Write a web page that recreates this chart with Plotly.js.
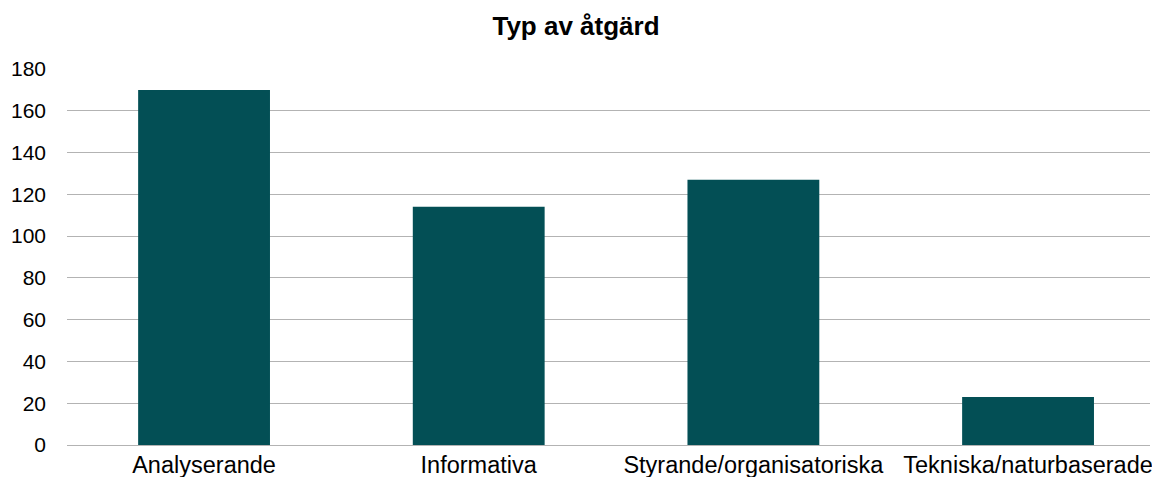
<!DOCTYPE html>
<html>
<head>
<meta charset="utf-8">
<script src="https://cdn.plot.ly/plotly-3.0.1.min.js"></script>
<style>
  html, body { margin: 0; padding: 0; background: #fff; }
  #chart { width: 1152px; height: 477px; }
</style>
</head>
<body>
<div id="chart"></div>
<script>
// data
const categories = ['Analyserande', 'Informativa', 'Styrande/organisatoriska', 'Tekniska/naturbaserade'];
const counts = [170, 114, 127, 23];
const yTicks = [0, 20, 40, 60, 80, 100, 120, 140, 160, 180];

const trace = {
    x: categories,
    y: counts,
    type: 'bar',
    marker: { color: '#034F55' },
    hoverinfo: 'x+y'
};

const layout = {
    width: 1152,
    height: 477,
    paper_bgcolor: '#fff',
    plot_bgcolor: '#fff',
    font: { family: 'Liberation Sans, Arial, sans-serif', size: 21, color: '#000' },
    title: {
        text: '<b>Typ av åtgärd</b>',
        font: { size: 26, color: '#000' },
        x: 0.5,
        xanchor: 'center',
        y: 0.945,
        yanchor: 'middle'
    },
    margin: { l: 67, r: 2, t: 69, b: 32 },
    bargap: 0.52,
    showlegend: false,
    xaxis: {
        type: 'category',
        range: [-0.499, 3.444],
        showgrid: false,
        showline: false,
        zeroline: false,
        ticks: '',
        ticklabelstandoff: 3,
        tickfont: { size: 23.5, color: '#000' }
    },
    yaxis: {
        range: [0, 180],
        tickvals: yTicks,
        showgrid: true,
        gridcolor: '#b3b3b3',
        gridwidth: 1,
        zeroline: true,
        zerolinecolor: '#b3b3b3',
        zerolinewidth: 1,
        showline: false,
        ticks: '',
        ticklabelstandoff: 20,
        tickfont: { size: 21, color: '#000' }
    }
};

Plotly.newPlot('chart', [trace], layout, { displayModeBar: false, staticPlot: true });
</script>
</body>
</html>
